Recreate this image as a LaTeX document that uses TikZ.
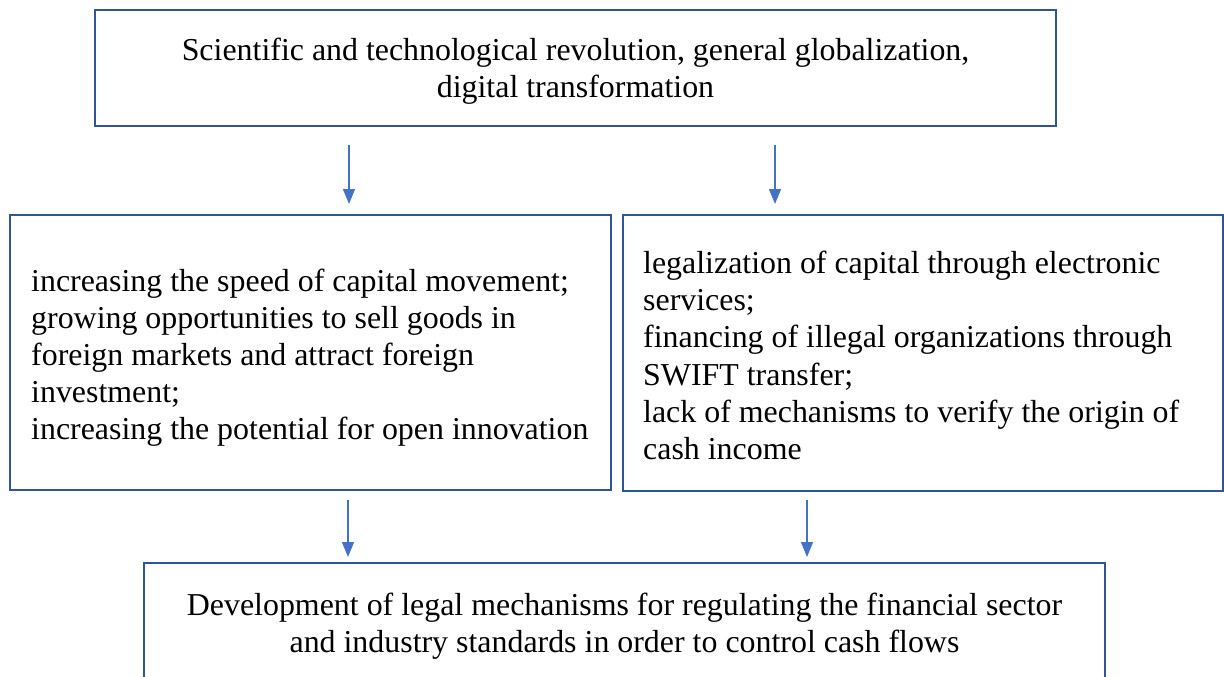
\documentclass[tikz,border=0pt]{standalone}
\usepackage{fontspec}
\setmainfont{Liberation Serif}
\usetikzlibrary{arrows.meta}
\definecolor{boxblue}{RGB}{47,85,151}
\definecolor{arrblue}{RGB}{68,114,196}
\begin{document}
\begin{tikzpicture}[x=1pt,y=-1pt,
  box/.style={draw=boxblue,line width=2.8pt,rectangle,inner sep=0pt},
  txt/.style={inner sep=0pt,font=\fontsize{31.9}{37.2}\selectfont},
  arr/.style={draw=arrblue,line width=1.4pt,-{Triangle[length=15pt,width=12pt]}}]
\useasboundingbox (0,0) rectangle (1224,677);
\clip (0,0) rectangle (1224,677);
% boxes
\node[box,minimum width=961pt,minimum height=116pt] (top) at (575.5,68) {};
\node[box,minimum width=601pt,minimum height=275pt] (left) at (310.5,352.5) {};
\node[box,minimum width=600pt,minimum height=276pt] (right) at (923,353) {};
\node[box,minimum width=961pt,minimum height=123pt] (bottom) at (624.5,624.5) {};
% texts
\node[txt,align=center] (toptext) at (575.5,71)
  {Scientific and technological revolution, general globalization,\\digital transformation};
\node[txt,anchor=west] (lefttext) at (31,358)
  {\begin{tabular}{@{}l@{}}increasing the speed of capital movement;\\growing opportunities to sell goods in\\foreign markets and attract foreign\\investment;\\increasing the potential for open innovation\end{tabular}};
\node[txt,anchor=west] (righttext) at (643,359)
  {\begin{tabular}{@{}l@{}}legalization of capital through electronic\\services;\\financing of illegal organizations through\\SWIFT transfer;\\lack of mechanisms to verify the origin of\\cash income\end{tabular}};
\node[txt,align=center] (bottomtext) at (624.5,626)
  {Development of legal mechanisms for regulating the financial sector\\and industry standards in order to control cash flows};
% connectors
\coordinate (a1s) at (349,145); \coordinate (a1e) at (349,204);
\coordinate (a2s) at (775,145); \coordinate (a2e) at (775,204);
\coordinate (a3s) at (348,500); \coordinate (a3e) at (348,557);
\coordinate (a4s) at (807,500); \coordinate (a4e) at (807,557);
\draw[arr] (a1s) -- (a1e);
\draw[arr] (a2s) -- (a2e);
\draw[arr] (a3s) -- (a3e);
\draw[arr] (a4s) -- (a4e);
\end{tikzpicture}
\end{document}
